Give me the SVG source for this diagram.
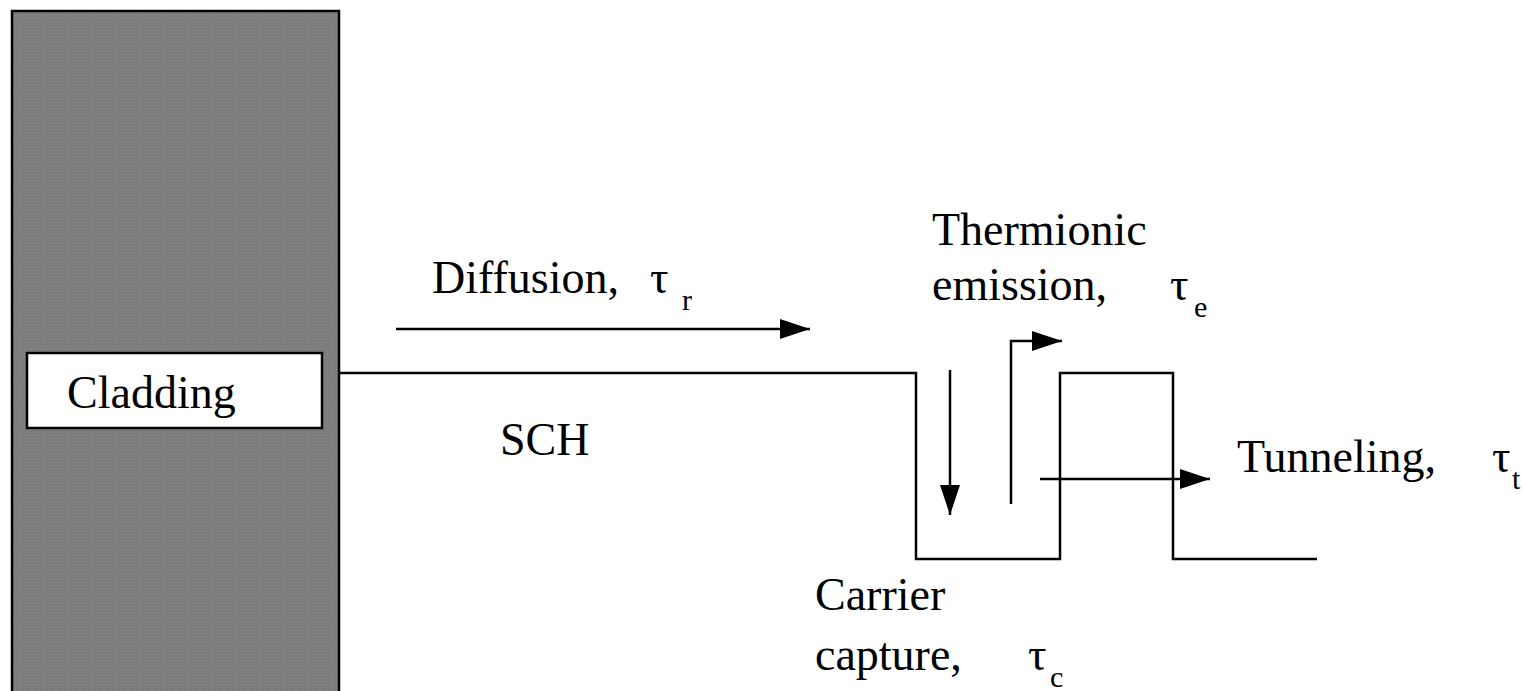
<svg xmlns="http://www.w3.org/2000/svg" width="1526" height="691" viewBox="0 0 1526 691">
<style>
  .t { font-family: "Liberation Serif", "Times New Roman", serif; font-size: 46px; fill: #000; }
  .s { font-size: 30px; }
  .ln { stroke: #000; stroke-width: 2.5; fill: none; }
</style>
<defs>
  <pattern id="dots" width="3" height="3" patternUnits="userSpaceOnUse">
    <rect width="3" height="3" fill="#7c7c7c"/>
    <rect width="1" height="1" fill="#8c8c8c"/>
  </pattern>
  <marker id="ah" viewBox="0 0 30 20" refX="30" refY="10" markerWidth="30" markerHeight="20" markerUnits="userSpaceOnUse" orient="auto">
    <path d="M0,0 L30,10 L0,20 Z" fill="#000"/>
  </marker>
</defs>

<g id="cladding-layer">
  <rect x="12" y="11" width="327" height="700" fill="url(#dots)" stroke="#000" stroke-width="2.5"/>
</g>

<g id="cladding-label">
  <rect x="27" y="353" width="295" height="75" fill="#fff" stroke="#000" stroke-width="2.5"/>
  <text class="t" x="67" y="408">Cladding</text>
</g>

<g id="band-profile">
  <path class="ln" d="M339,373 H916 V559 H1060 V373 H1173 V559 H1317"/>
</g>

<g id="connectors">
  <line class="ln" x1="396" y1="329" x2="810" y2="329" marker-end="url(#ah)"/>
  <line class="ln" x1="950" y1="370" x2="950" y2="515" marker-end="url(#ah)"/>
  <path class="ln" d="M1011,504 V341 H1062" marker-end="url(#ah)"/>
  <line class="ln" x1="1040" y1="479" x2="1210" y2="479" marker-end="url(#ah)"/>
</g>

<g id="diffusion-label">
  <text class="t" x="432" y="293">Diffusion,</text>
  <text class="t" x="650" y="293">τ</text>
  <text class="t s" x="682" y="310">r</text>
</g>

<g id="sch-label">
  <text class="t" x="500" y="455">SCH</text>
</g>

<g id="thermionic-label">
  <text class="t" x="932" y="245">Thermionic</text>
  <text class="t" x="932" y="300">emission,</text>
  <text class="t" x="1170" y="300">τ</text>
  <text class="t s" x="1194" y="317">e</text>
</g>

<g id="tunneling-label">
  <text class="t" x="1237" y="472">Tunneling,</text>
  <text class="t" x="1492" y="472">τ</text>
  <text class="t s" x="1512" y="489">t</text>
</g>

<g id="capture-label">
  <text class="t" x="815" y="610">Carrier</text>
  <text class="t" x="815" y="670">capture,</text>
  <text class="t" x="1028" y="670">τ</text>
  <text class="t s" x="1050" y="687">c</text>
</g>
</svg>
